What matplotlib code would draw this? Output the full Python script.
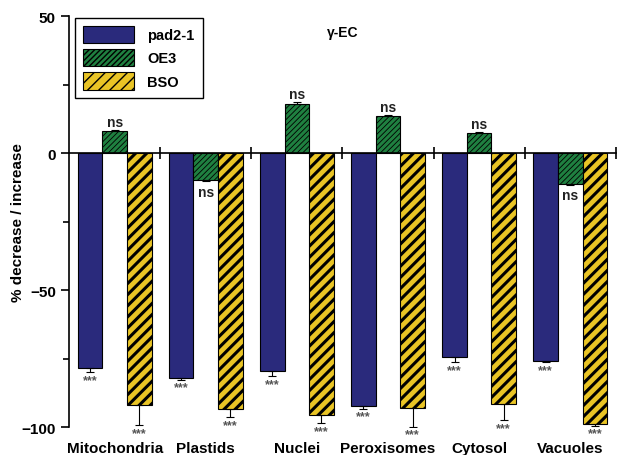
import matplotlib
matplotlib.use("Agg")
import matplotlib.pyplot as plt
import matplotlib.transforms as mtransforms
import numpy as np

plt.rcParams['font.family'] = ['Liberation Sans', 'DejaVu Sans']
plt.rcParams['font.weight'] = 'bold'

categories = ["Mitochondria", "Plastids", "Nuclei", "Peroxisomes", "Cytosol", "Vacuoles"]
series = ["pad2-1", "OE3", "BSO"]
pad2_vals = [-78.5, -82.0, -79.6, -92.3, -74.5, -75.9]
pad2_err = [1.5, 0.8, 1.8, 1.0, 1.8, 0.4]
oe3_vals = [8.0, -10.0, 17.9, 13.4, 7.3, -11.3]
oe3_err = [0.4, 0.3, 0.6, 0.3, 0.3, 0.3]
bso_vals = [-92.0, -93.4, -95.6, -93.0, -91.6, -99.0]
bso_err = [7.3, 3.0, 3.0, 7.0, 6.0, 0.6]
pad2_sig = ["***"] * 6
oe3_sig = ["ns"] * 6
bso_sig = ["***"] * 6
yticks = [50, 0, -50, -100]
title_text = "\u03b3-EC"

fig = plt.figure(figsize=(6.17, 4.56), dpi=100)
ax = fig.add_axes([0.112, 0.0614, 0.886, 0.9013])

x = np.arange(len(categories))
w = 0.27
colors = ["#2a2a7c", "#1f8040", "#e9c425"]
hatches = [None, "//////", "///"]
hlw = [1.0, 0.6, 2.2]
vals = [pad2_vals, oe3_vals, bso_vals]
errs = [pad2_err, oe3_err, bso_err]
sigs = [pad2_sig, oe3_sig, bso_sig]
offsets = [-w, 0, w]

for i in range(3):
    v = np.array(vals[i])
    e = np.array(errs[i])
    lower = np.where(v < 0, e, 0)
    upper = np.where(v >= 0, e, 0)
    with plt.rc_context({'hatch.linewidth': hlw[i]}):
        bars = ax.bar(x + offsets[i], v, width=w, color=colors[i], edgecolor="black",
                      linewidth=0.8, hatch=hatches[i], label=series[i], zorder=2)
    for b in bars:
        try:
            b.set_hatch_linewidth(hlw[i])
        except Exception:
            pass
    ax.errorbar(x + offsets[i], v, yerr=[lower, upper], fmt="none", ecolor="black",
                elinewidth=0.8, capsize=3, capthick=0.8, zorder=3)
    for j in range(len(categories)):
        if sigs[i][j] == "ns":
            if v[j] >= 0:
                ax.text(x[j] + offsets[i], v[j] + e[j] + 0.5, "ns", ha="center", va="bottom",
                        fontsize=10, color="#222222", zorder=4)
            else:
                ax.text(x[j] + offsets[i], v[j] - 1.5, "ns", ha="center", va="top",
                        fontsize=10, color="#222222", zorder=4,
                        bbox=dict(facecolor="white", edgecolor="none", pad=0.5))
        else:
            ax.text(x[j] + offsets[i], v[j] - e[j] - 0.6, sigs[i][j], ha="center", va="top",
                    fontsize=9, color="#555555", zorder=4)

ax.set_xlim(-0.5, len(categories) - 0.5)
ax.set_ylim(-100, 50)
ax.spines['top'].set_visible(False)
ax.spines['right'].set_visible(False)
ax.spines['bottom'].set_position(('data', 0))
ax.spines['bottom'].set_zorder(5)
ax.spines['left'].set_linewidth(1.2)
ax.spines['bottom'].set_linewidth(1.2)
ax.set_xticks(x + 0.5)
ax.tick_params(axis='x', direction='inout', length=8, width=1.2, labelbottom=False)
ax.set_yticks(yticks)
ax.set_yticks([25, -25, -75], minor=True)
ax.tick_params(axis='y', which='major', length=6, width=1.2, labelsize=11)
ax.tick_params(axis='y', which='minor', length=4, width=1.2)
for lab in ax.get_yticklabels():
    lab.set_fontweight('bold')

trans = mtransforms.blended_transform_factory(ax.transData, ax.transAxes)
for j, c in enumerate(categories):
    ax.text(x[j], -0.035, c, transform=trans, ha="center", va="top", fontsize=11,
            fontweight="bold")

ax.set_ylabel("% decrease / increase", fontsize=11, fontweight="bold")
ax.yaxis.set_label_coords(-0.08, 0.5)
fig.text(0.556, 0.928, title_text, ha="center", va="center",
         fontsize=10, fontweight="bold")

leg = ax.legend(loc="upper left", bbox_to_anchor=(0.003, 1.007), fontsize=10.5,
                handlelength=3.5, handleheight=1.45, labelspacing=0.42,
                fancybox=False, edgecolor="black", framealpha=1, borderpad=0.55,
                handletextpad=0.9, borderaxespad=0.3)
leg.get_frame().set_linewidth(1.0)
for t in leg.get_texts():
    t.set_fontweight('bold')

fig.savefig("out.png", dpi=100)
